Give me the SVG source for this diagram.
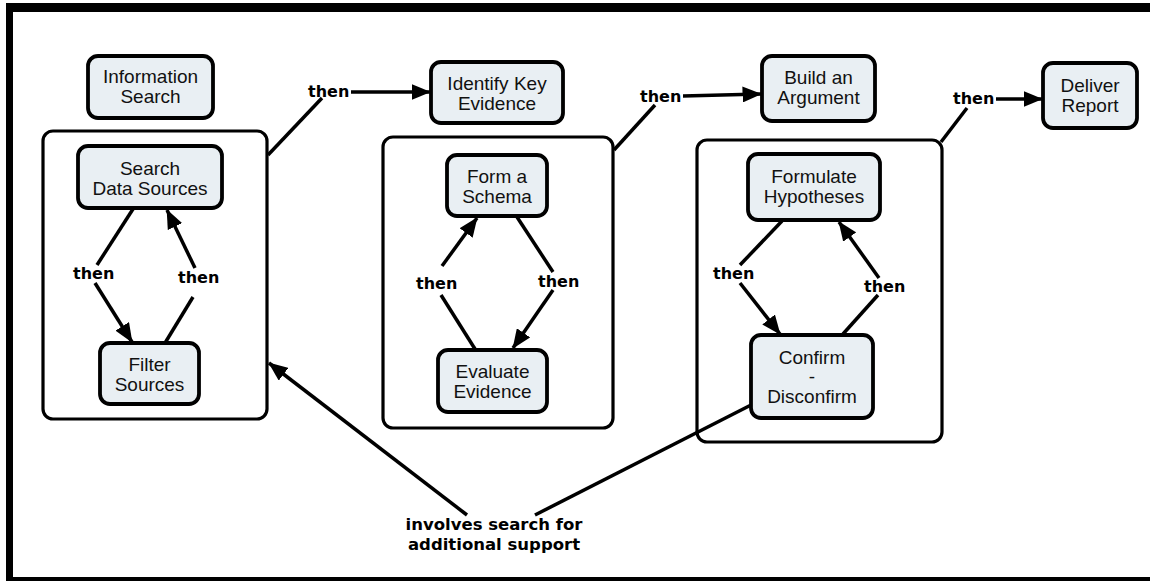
<svg xmlns="http://www.w3.org/2000/svg" width="1150" height="581" viewBox="0 0 1150 581">
<style>
.frame{fill:#000}
.node{fill:#e9eff3;stroke:#000;stroke-width:3.8}
.box{fill:none;stroke:#000;stroke-width:3.2}
.t{font-family:"Liberation Sans",Arial,sans-serif;font-size:19px;fill:#111;text-anchor:middle}
.lbl{font-family:"DejaVu Sans",Verdana,sans-serif;font-weight:bold;font-size:16px;fill:#000}
.big{font-size:16.5px;text-anchor:middle}
.c{fill:none;stroke:#000;stroke-width:3.5}
</style>
<defs>
<marker id="ah" viewBox="0 0 12 10" refX="11.5" refY="5" markerWidth="5.5" markerHeight="4.6" markerUnits="strokeWidth" orient="auto">
<path d="M0,0 L12,5 L0,10 Z" fill="#000"/>
</marker>
</defs>
<rect x="0" y="0" width="1150" height="581" fill="#fff"/>
<path class="frame" d="M6,3 H1150 V581 H6 Z M13,12 V577 H1150 V12 Z" fill-rule="evenodd"/>

<g id="containers">
<rect id="group1" class="box" x="43" y="131" width="224" height="288" rx="10"/>
<rect id="group2" class="box" x="383" y="137" width="230" height="291" rx="10"/>
<rect id="group3" class="box" x="697" y="140" width="245" height="302" rx="10"/>
</g>

<g id="connectors">
<path class="c" d="M268,155 L322,98"/>
<path class="c" d="M351,92 L430,92" marker-end="url(#ah)"/>
<path class="c" d="M614,150 L655,105"/>
<path class="c" d="M683,96 L761,94" marker-end="url(#ah)"/>
<path class="c" d="M941,142 L967,108"/>
<path class="c" d="M996,99 L1042,99" marker-end="url(#ah)"/>

<path class="c" d="M133,209 L97,265"/>
<path class="c" d="M95,283 L132,342" marker-end="url(#ah)"/>
<path class="c" d="M165,343 L193,297"/>
<path class="c" d="M195,268 L167,210" marker-end="url(#ah)"/>

<path class="c" d="M475,349 L441,295"/>
<path class="c" d="M442,266 L477,218" marker-end="url(#ah)"/>
<path class="c" d="M517,217 L553,272"/>
<path class="c" d="M553,290 L513,348" marker-end="url(#ah)"/>

<path class="c" d="M782,221 L740,265"/>
<path class="c" d="M740,283 L780,334" marker-end="url(#ah)"/>
<path class="c" d="M843,334 L878,295"/>
<path class="c" d="M879,278 L839,222" marker-end="url(#ah)"/>

<path class="c" d="M467,515 L269,363" marker-end="url(#ah)"/>
<path class="c" d="M535,515 L751,405"/>
</g>

<g id="labels">
<text class="lbl" x="308" y="97">then</text>
<text class="lbl" x="640" y="102">then</text>
<text class="lbl" x="953" y="104">then</text>
<text class="lbl" x="73" y="279">then</text>
<text class="lbl" x="178" y="283">then</text>
<text class="lbl" x="416" y="289">then</text>
<text class="lbl" x="538" y="287">then</text>
<text class="lbl" x="713" y="279">then</text>
<text class="lbl" x="864" y="292">then</text>
<text class="lbl big" x="494" y="530">involves search for</text>
<text class="lbl big" x="494" y="550">additional support</text>
</g>

<g id="n-info-search">
<rect class="node" x="88" y="56" width="125" height="62" rx="10"/>
<text class="t" x="150.5" y="83">Information</text>
<text class="t" x="150.5" y="103">Search</text>
</g>
<g id="n-search-data">
<rect class="node" x="78" y="146" width="144" height="62" rx="10"/>
<text class="t" x="150" y="175">Search</text>
<text class="t" x="150" y="195">Data Sources</text>
</g>
<g id="n-filter">
<rect class="node" x="100" y="343" width="99" height="61" rx="10"/>
<text class="t" x="149.5" y="371">Filter</text>
<text class="t" x="149.5" y="391">Sources</text>
</g>
<g id="n-identify">
<rect class="node" x="431" y="62" width="132" height="61" rx="10"/>
<text class="t" x="497" y="90">Identify Key</text>
<text class="t" x="497" y="110">Evidence</text>
</g>
<g id="n-schema">
<rect class="node" x="447" y="155" width="100" height="61" rx="10"/>
<text class="t" x="497" y="183">Form a</text>
<text class="t" x="497" y="203">Schema</text>
</g>
<g id="n-evaluate">
<rect class="node" x="438" y="350" width="109" height="62" rx="10"/>
<text class="t" x="492.5" y="378">Evaluate</text>
<text class="t" x="492.5" y="398">Evidence</text>
</g>
<g id="n-build">
<rect class="node" x="762" y="56" width="113" height="65" rx="10"/>
<text class="t" x="818.5" y="84">Build an</text>
<text class="t" x="818.5" y="104">Argument</text>
</g>
<g id="n-deliver">
<rect class="node" x="1043" y="63" width="94" height="65" rx="10"/>
<text class="t" x="1090" y="92">Deliver</text>
<text class="t" x="1090" y="112">Report</text>
</g>
<g id="n-formulate">
<rect class="node" x="748" y="154" width="132" height="66" rx="10"/>
<text class="t" x="814" y="183">Formulate</text>
<text class="t" x="814" y="203">Hypotheses</text>
</g>
<g id="n-confirm">
<rect class="node" x="751" y="335" width="122" height="83" rx="10"/>
<text class="t" x="812" y="364">Confirm</text>
<text class="t" x="812" y="383">-</text>
<text class="t" x="812" y="403">Disconfirm</text>
</g>
</svg>
